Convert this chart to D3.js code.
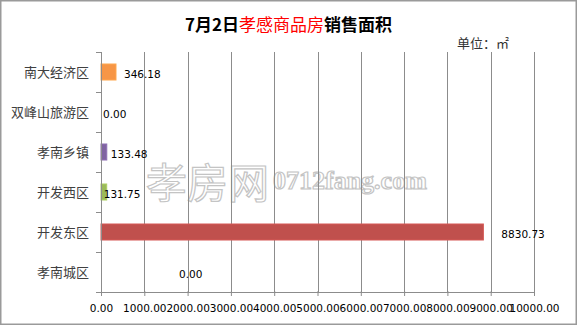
<!DOCTYPE html>
<html lang="zh">
  <head>
    <meta charset="UTF-8" />
    <title>7月2日孝感商品房销售面积</title>
    <script src="https://cdn.jsdelivr.net/npm/d3@7"></script>
    <style>
      body { margin: 0; background: #fff; }
      text { font-family: "DejaVu Sans", sans-serif; }
      .cat { font-family: "Noto Sans CJK SC", sans-serif; font-size: 13px; fill: #404040; }
      .num { font-size: 10.5px; fill: #000; }
      .grid { stroke: #8c8c8c; stroke-width: 1px; }
    </style>
  </head>
  <body>
    <script>
      // data
      var categories = ["南大经济区", "双峰山旅游区", "孝南乡镇", "开发西区", "开发东区", "孝南城区"];
      var areas = [346.18, 0, 133.48, 131.75, 8830.73, 0];
      var barColors = ["#F79646", "#4F81BD", "#8064A2", "#9BBB59", "#C0504D", "#4BACC6"];
      var xTicks = [0, 1000, 2000, 3000, 4000, 5000, 6000, 7000, 8000, 9000, 10000];

      // value label nudges in px (labels were moved by hand in the original)
      var labelDx = [8, 2, 4, -3, 18, 78];

      var w = 577, h = 325;
      var margin = { top: 52, right: 43, bottom: 33, left: 101 };

      var svg = d3.select("body").append("svg")
        .attr("width", w)
        .attr("height", h);

      svg.append("rect")
        .attr("x", 0.75).attr("y", 0.75)
        .attr("width", w - 1.5).attr("height", h - 1.5)
        .attr("fill", "#fff")
        .attr("stroke", "#9a9a9a")
        .attr("stroke-width", 1.5);

      var xScale = d3.scaleLinear()
        .domain([0, 10000])
        .range([margin.left, w - margin.right]);

      var yScale = d3.scaleBand()
        .domain(categories)
        .range([margin.top, h - margin.bottom])
        .paddingInner(0.6)
        .paddingOuter(0.3);

      // watermark
      var wm = svg.append("g").attr("fill", "#fff").attr("stroke", "#c4c4c4").attr("stroke-width", 1.2);
      wm.append("text")
        .attr("x", 146).attr("y", 198)
        .style("font-family", "Noto Sans CJK SC")
        .style("font-size", "41px")
        .text("孝房网");
      wm.append("text")
        .attr("x", 273).attr("y", 189)
        .style("font-family", "Liberation Serif")
        .style("font-size", "26px")
        .style("font-weight", "bold")
        .text("0712fang.com");

      // grid lines
      svg.append("g")
        .selectAll("line")
        .data(xTicks.slice(1))
        .enter()
        .append("line")
        .attr("class", "grid")
        .attr("x1", function(d) { return Math.round(xScale(d)) + 0.5; })
        .attr("x2", function(d) { return Math.round(xScale(d)) + 0.5; })
        .attr("y1", margin.top)
        .attr("y2", h - margin.bottom);

      // bars
      svg.append("g")
        .selectAll("rect")
        .data(areas)
        .enter()
        .append("rect")
        .attr("x", xScale(0))
        .attr("y", function(d, i) { return yScale(categories[i]); })
        .attr("width", function(d) { return xScale(d) - xScale(0); })
        .attr("height", yScale.bandwidth())
        .attr("fill", function(d, i) { return barColors[i]; })
        .attr("stroke", function(d, i) { return d > 0 ? d3.color(barColors[i]).brighter(0.3) : "none"; })
        .attr("stroke-width", 1);

      // x axis
      var xAxis = d3.axisBottom(xScale)
        .tickValues(xTicks)
        .tickSize(4)
        .tickPadding(9)
        .tickFormat(d3.format(".2f"));

      var gx = svg.append("g")
        .attr("transform", "translate(0," + (h - margin.bottom) + ")")
        .call(xAxis);
      gx.select(".domain").attr("stroke", "#8c8c8c").attr("d", "M" + xScale(0) + ",0.5H" + xScale(10000));
      gx.selectAll(".tick line").attr("stroke", "#8c8c8c").attr("y1", -1);
      gx.selectAll(".tick text")
        .attr("class", "num")
        .style("font-family", "DejaVu Sans")
        .style("font-size", "10.5px")
        .attr("fill", "#000");

      // y axis: line plus tick marks at band edges
      var yStep = yScale.step();
      var edges = d3.range(categories.length + 1).map(function(i) { return margin.top + i * yStep; });
      var gy = svg.append("g");
      gy.append("line")
        .attr("x1", xScale(0) + 0.5).attr("x2", xScale(0) + 0.5)
        .attr("y1", margin.top).attr("y2", h - margin.bottom + 4)
        .attr("stroke", "#8c8c8c");
      gy.selectAll(".yt")
        .data(edges)
        .enter()
        .append("line")
        .attr("x1", xScale(0) - 5).attr("x2", xScale(0))
        .attr("y1", function(d) { return Math.round(d) + 0.5; })
        .attr("y2", function(d) { return Math.round(d) + 0.5; })
        .attr("stroke", "#8c8c8c");

      gy.selectAll(".cat")
        .data(categories)
        .enter()
        .append("text")
        .attr("class", "cat")
        .attr("x", xScale(0) - 12)
        .attr("y", function(d) { return yScale(d) + yScale.bandwidth() / 2; })
        .attr("dy", "0.35em")
        .attr("text-anchor", "end")
        .text(function(d) { return d; });

      // value labels
      svg.append("g")
        .selectAll("text")
        .data(areas)
        .enter()
        .append("text")
        .attr("class", "num")
        .attr("x", function(d, i) { return xScale(d) + labelDx[i]; })
        .attr("y", function(d, i) { return yScale(categories[i]) + yScale.bandwidth() / 2 + 2; })
        .attr("dy", "0.35em")
        .text(function(d) { return d3.format(".2f")(d); });

      // title
      var title = svg.append("text")
        .attr("x", w / 2)
        .attr("y", 31)
        .attr("text-anchor", "middle")
        .style("font-family", "Noto Sans CJK SC")
        .style("font-size", "17px");
      title.append("tspan").attr("font-weight", "bold").attr("fill", "#000").text("7月2日");
      title.append("tspan").attr("fill", "#ff0000").text("孝感商品房");
      title.append("tspan").attr("font-weight", "bold").attr("fill", "#000").text("销售面积");

      svg.append("text")
        .attr("x", 457)
        .attr("y", 48)
        .style("font-family", "Noto Sans CJK SC")
        .style("font-size", "13px")
        .attr("fill", "#333")
        .text("单位：㎡");
    </script>
  </body>
</html>
